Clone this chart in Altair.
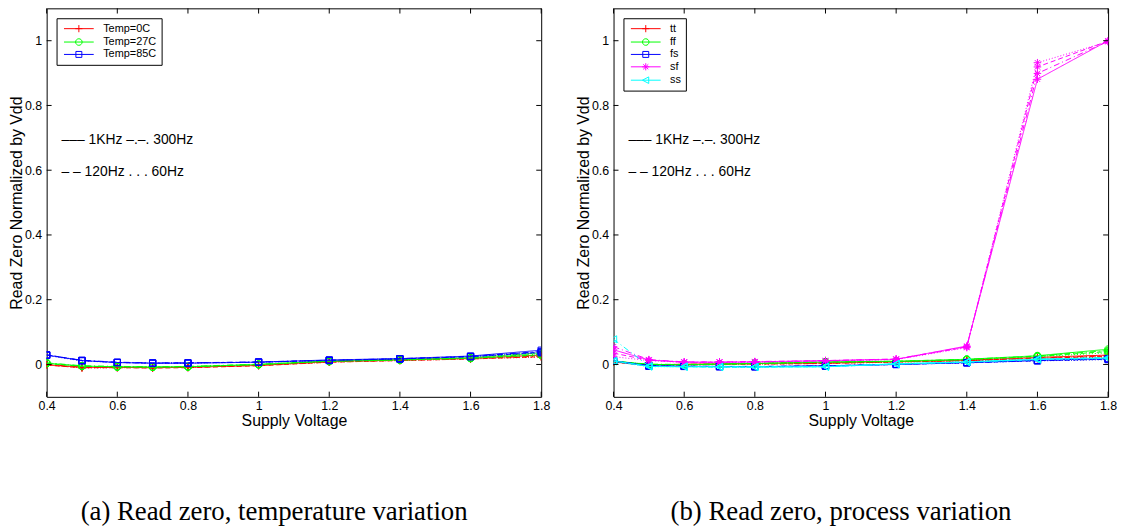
import altair as alt
import pandas as pd

# ---------------- data ----------------
X = [0.4, 0.5, 0.6, 0.7, 0.8, 1.0, 1.2, 1.4, 1.6, 1.8]
FREQS = ["1KHz", "300Hz", "120Hz", "60Hz"]

# left panel: temperature variation (one list per frequency: 1KHz, 300Hz, 120Hz, 60Hz)
T0 = [
    [-0.001, -0.009, -0.009, -0.010, -0.009, -0.003, 0.009, 0.014, 0.019, 0.029],
    [0.000, -0.008, -0.008, -0.009, -0.008, -0.002, 0.008, 0.013, 0.018, 0.026],
    [-0.002, -0.010, -0.010, -0.011, -0.010, -0.004, 0.007, 0.012, 0.017, 0.024],
    [-0.001, -0.011, -0.010, -0.010, -0.009, -0.003, 0.007, 0.012, 0.017, 0.023],
]
T27 = [
    [0.004, -0.005, -0.007, -0.008, -0.007, 0.000, 0.011, 0.015, 0.021, 0.036],
    [0.005, -0.004, -0.006, -0.007, -0.006, 0.001, 0.010, 0.014, 0.020, 0.032],
    [0.003, -0.006, -0.007, -0.008, -0.007, 0.000, 0.010, 0.014, 0.019, 0.030],
    [0.004, -0.005, -0.008, -0.008, -0.007, -0.001, 0.009, 0.013, 0.019, 0.028],
]
T85 = [
    [0.029, 0.012, 0.006, 0.004, 0.004, 0.007, 0.014, 0.018, 0.026, 0.044],
    [0.029, 0.013, 0.007, 0.005, 0.005, 0.008, 0.013, 0.018, 0.025, 0.040],
    [0.030, 0.012, 0.006, 0.004, 0.005, 0.007, 0.013, 0.017, 0.024, 0.038],
    [0.028, 0.011, 0.006, 0.004, 0.004, 0.007, 0.012, 0.017, 0.024, 0.036],
]

# right panel: process variation
TT = [
    [0.008, -0.002, 0.001, 0.002, 0.003, 0.005, 0.009, 0.013, 0.022, 0.029],
    [0.008, -0.002, 0.000, 0.001, 0.002, 0.004, 0.008, 0.012, 0.020, 0.027],
    [0.007, -0.003, -0.001, 0.000, 0.001, 0.003, 0.008, 0.012, 0.019, 0.025],
    [0.007, -0.003, -0.001, 0.000, 0.001, 0.003, 0.007, 0.011, 0.018, 0.023],
]
FF = [
    [0.010, 0.000, -0.001, 0.001, 0.003, 0.008, 0.010, 0.016, 0.027, 0.047],
    [0.010, 0.001, 0.000, 0.002, 0.004, 0.008, 0.010, 0.016, 0.026, 0.043],
    [0.011, 0.000, -0.001, 0.001, 0.003, 0.007, 0.009, 0.015, 0.025, 0.040],
    [0.010, -0.001, -0.002, 0.000, 0.002, 0.006, 0.009, 0.014, 0.024, 0.036],
]
FS = [
    [0.011, -0.004, -0.006, -0.006, -0.007, -0.004, 0.000, 0.006, 0.013, 0.018],
    [0.011, -0.004, -0.005, -0.006, -0.006, -0.004, 0.001, 0.006, 0.012, 0.017],
    [0.010, -0.005, -0.006, -0.007, -0.007, -0.005, 0.000, 0.005, 0.012, 0.016],
    [0.010, -0.005, -0.006, -0.007, -0.007, -0.005, 0.000, 0.005, 0.011, 0.015],
]
SF = [
    [0.045, 0.014, 0.007, 0.007, 0.008, 0.012, 0.016, 0.057, 0.881, 1.000],
    [0.055, 0.015, 0.008, 0.008, 0.009, 0.012, 0.017, 0.055, 0.899, 0.998],
    [0.035, 0.013, 0.007, 0.007, 0.008, 0.011, 0.016, 0.054, 0.919, 0.999],
    [0.024, 0.012, 0.006, 0.006, 0.007, 0.011, 0.015, 0.052, 0.932, 0.997],
]
SS = [
    [0.012, -0.006, -0.007, -0.007, -0.008, -0.007, 0.002, 0.008, 0.017, 0.020],
    [0.078, -0.005, -0.006, -0.007, -0.007, -0.006, 0.002, 0.008, 0.016, 0.022],
    [0.010, -0.006, -0.007, -0.008, -0.008, -0.007, 0.001, 0.007, 0.015, 0.019],
    [0.009, -0.007, -0.007, -0.008, -0.008, -0.007, 0.001, 0.007, 0.015, 0.018],
]

LEFT_NAMES = ["Temp=0C", "Temp=27C", "Temp=85C"]
LEFT_DATA = [T0, T27, T85]
RIGHT_NAMES = ["tt", "ff", "fs", "sf", "ss"]
RIGHT_DATA = [TT, FF, FS, SF, SS]

XTICKS = [0.4, 0.6, 0.8, 1.0, 1.2, 1.4, 1.6, 1.8]
YTICKS = [0, 0.2, 0.4, 0.6, 0.8, 1.0]
XDOM = [0.4, 1.8]
YDOM = [-0.1, 1.1]

ANNOT_TEXT = ["––– 1KHz  –.–. 300Hz", "– – 120Hz  . . . 60Hz"]
ANNOT_X = [0.442, 0.442]
ANNOT_Y = [0.693, 0.595]

CAPTIONS = ["(a) Read zero, temperature variation", "(b) Read zero, process variation"]

# ---------------- styles ----------------
COLORS_LEFT = ["#FF0000", "#00FF00", "#0000FF"]
COLORS_RIGHT = ["#FF0000", "#00FF00", "#0000FF", "#FF00FF", "#00FFFF"]
DASHES = [[1, 0], [6, 3, 1, 3], [5, 3], [1, 2]]

M_PLUS = "M-1.2,0L1.2,0M0,-1.2L0,1.2"
M_CIRCLE = "M1.1,0A1.1,1.1,0,1,1,-1.1,0A1.1,1.1,0,1,1,1.1,0Z"
M_SQUARE = "M-1,-1L1,-1L1,1L-1,1Z"
M_STAR = "M-1.2,0L1.2,0M0,-1.2L0,1.2M-0.85,-0.85L0.85,0.85M-0.85,0.85L0.85,-0.85"
M_TRI = "M-1.1,0L1,-1.1L1,1.1Z"
LINE = "M-5,0L5,0"
LEFT_MARKERS = [M_PLUS, M_CIRCLE, M_SQUARE]
RIGHT_MARKERS = [M_PLUS, M_CIRCLE, M_SQUARE, M_STAR, M_TRI]

FONT = "Liberation Sans"


def make_df(names, datasets):
    rows = []
    for si, (name, sets) in enumerate(zip(names, datasets)):
        for fi, (freq, vals) in enumerate(zip(FREQS, sets)):
            for x, y in zip(X, vals):
                rows.append({"series": name, "freq": freq, "x": x, "y": y,
                             "grp": f"{si}-{fi}"})
    return pd.DataFrame(rows)


def xenc(field="x"):
    return alt.X(f"{field}:Q",
                 scale=alt.Scale(domain=XDOM, nice=False, zero=False),
                 axis=alt.Axis(values=XTICKS, format="~g", title="Supply Voltage",
                               grid=False, ticks=False, domain=False, labelFlush=False,
                               labelPadding=3, titlePadding=0))


def yenc(field="y"):
    return alt.Y(f"{field}:Q",
                 scale=alt.Scale(domain=YDOM, nice=False, zero=False),
                 axis=alt.Axis(values=YTICKS, format="~g",
                               title="Read Zero Normalized by Vdd",
                               grid=False, ticks=False, domain=False, labelFlush=False,
                               labelPadding=5, titlePadding=0))


def panel(names, datasets, colors, markers, caption):
    df = make_df(names, datasets)

    layers = []
    for name, col, mk in zip(names, colors, markers):
        sub = df[df["series"] == name]
        layers.append(
            alt.Chart(sub).mark_line(strokeWidth=1, color=col, clip=True).encode(
                x=xenc(), y=yenc(),
                strokeDash=alt.StrokeDash("freq:N", scale=alt.Scale(domain=FREQS, range=DASHES),
                                          legend=None),
                detail="grp:N",
                order="x:Q",
            )
        )
        layers.append(
            alt.Chart(sub).mark_point(shape=mk, filled=False, color=col, size=40,
                                      strokeWidth=1, opacity=1, clip=True)
            .encode(x=xenc(), y=yenc())
        )

    # legend-only layer (no drawn points; entries come from the explicit domain)
    leg_df = pd.DataFrame({"series": names, "x": [None] * len(names), "y": [None] * len(names)})
    legend = alt.Legend(title=None, orient="top-left", offset=10, padding=5,
                        strokeColor="black", fillColor="white",
                        symbolSize=36, symbolOffset=12, labelOffset=19,
                        labelFont=FONT, labelFontSize=11, labelColor="black",
                        rowPadding=0.5, symbolStrokeWidth=1)
    leg_paths = [LINE + m for m in markers]
    layers.append(
        alt.Chart(leg_df).mark_point(filled=False, strokeWidth=1, opacity=1).encode(
            x=xenc(), y=yenc(),
            shape=alt.Shape("series:N", scale=alt.Scale(domain=names, range=leg_paths), legend=legend),
            stroke=alt.Stroke("series:N", scale=alt.Scale(domain=names, range=colors), legend=legend),
        )
    )

    # inward tick marks (MATLAB box style)
    tl_y = 0.016
    tl_x = 0.014
    vt = pd.DataFrame({
        "x": XTICKS * 2,
        "y": [YDOM[0]] * len(XTICKS) + [YDOM[1]] * len(XTICKS),
        "y2": [YDOM[0] + tl_y] * len(XTICKS) + [YDOM[1] - tl_y] * len(XTICKS),
    })
    ht = pd.DataFrame({
        "y": YTICKS * 2,
        "x": [XDOM[0]] * len(YTICKS) + [XDOM[1]] * len(YTICKS),
        "x2": [XDOM[0] + tl_x] * len(YTICKS) + [XDOM[1] - tl_x] * len(YTICKS),
    })
    layers.append(alt.Chart(vt).mark_rule(color="black", strokeWidth=1).encode(
        x=xenc(), y=yenc(), y2="y2:Q"))
    layers.append(alt.Chart(ht).mark_rule(color="black", strokeWidth=1).encode(
        x=xenc(), y=yenc(), x2="x2:Q"))

    ann = pd.DataFrame({"text": ANNOT_TEXT, "x": ANNOT_X, "y": ANNOT_Y})
    layers.append(alt.Chart(ann).mark_text(align="left", baseline="middle", fontSize=14,
                                           font=FONT, color="black").encode(
        x=xenc(), y=yenc(), text="text:N"))

    return alt.layer(*layers).properties(
        width=499, height=392,
        title=alt.TitleParams(caption, orient="bottom", anchor="middle", font="Liberation Serif",
                              fontSize=27, fontWeight="normal", color="black", offset=72, dx=-20),
    )


left = panel(LEFT_NAMES, LEFT_DATA, COLORS_LEFT, LEFT_MARKERS, CAPTIONS[0])
right = panel(RIGHT_NAMES, RIGHT_DATA, COLORS_RIGHT, RIGHT_MARKERS, CAPTIONS[1])

chart = alt.hconcat(left, right, spacing=73, bounds="flush").resolve_scale(
    stroke="independent", shape="independent", strokeDash="independent"
).properties(
    padding={"left": 0, "top": -3, "right": 0, "bottom": 0},
    background="white",
).configure_view(
    stroke="black", strokeWidth=1
).configure_axis(
    labelFont=FONT, labelFontSize=12.5, labelColor="black",
    titleFont=FONT, titleFontSize=16, titleFontWeight="normal", titleColor="black",
)

chart.save("out.html", embed_options={"renderer": "svg", "actions": False})
